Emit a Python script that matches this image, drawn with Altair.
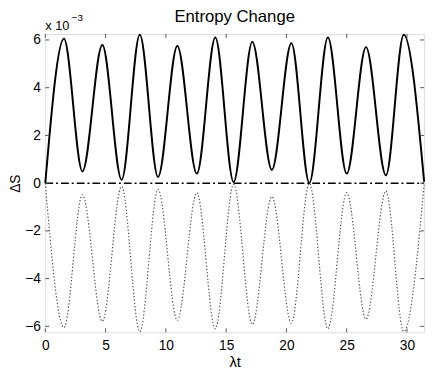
import altair as alt
import pandas as pd

# Values in units of 1e-3 (axis exponent label "x 10^-3")
peak_x = [1.55, 4.73, 7.84, 10.95, 14.10, 17.17, 20.41, 23.44, 26.60, 29.73]
peak_y = [6.05, 5.79, 6.22, 5.75, 6.10, 5.92, 5.86, 6.10, 5.70, 6.22]
trough_x = [0.0, 3.08, 6.33, 9.35, 12.57, 15.62, 18.79, 21.90, 25.00, 28.25, 31.42]
trough_y = [0.0, 0.49, 0.14, 0.26, 0.40, 0.05, 0.56, 0.01, 0.40, 0.33, 0.06]
zero_x = [0.0, 31.416]
zero_y = [0.0, 0.0]

x_ticks = [0, 5, 10, 15, 20, 25, 30]
y_ticks = [-6, -4, -2, 0, 2, 4, 6]
x_domain = [0, 31.416]
y_domain = [-6.25, 6.25]

title_text = "Entropy Change"
x_title = "λt"
y_title = "ΔS"
exp_base = "x 10"
exp_power = "−3"

FONT = "Liberation Sans"
W, H = 386, 304

pts = sorted(zip(peak_x + trough_x, peak_y + trough_y))
solid = pd.DataFrame({"x": [p[0] for p in pts], "y": [p[1] for p in pts]})
solid["o"] = range(len(solid))
dotted = solid.copy()
dotted["y"] = -dotted["y"]
zero = pd.DataFrame({"x": zero_x, "y": zero_y})

xs = alt.Scale(domain=x_domain, nice=False, zero=False)
ys = alt.Scale(domain=y_domain, nice=False, zero=False)

xaxis = alt.Axis(values=x_ticks, tickSize=0, domain=False, grid=False,
                 labelFontSize=14, labelPadding=7, labelFont=FONT, labelColor="black",
                 title=x_title, titleFontSize=15, titleFont=FONT, titleFontWeight="normal",
                 titlePadding=2, titleColor="black", labelFlush=False)
yaxis = alt.Axis(values=y_ticks, tickSize=0, domain=False, grid=False,
                 labelFontSize=14, labelPadding=5, labelFont=FONT, labelColor="black",
                 labelExpr="replace(datum.label, '-', '−')",
                 title=y_title, titleFontSize=14, titleFont=FONT, titleFontWeight="normal",
                 titlePadding=2, titleColor="black", labelFlush=False)

X = alt.X("x:Q", scale=xs, axis=xaxis)
Y = alt.Y("y:Q", scale=ys, axis=yaxis)

solid_line = alt.Chart(solid).mark_line(color="black", strokeWidth=2, interpolate="monotone").encode(
    x=X, y=Y, order="o:Q")
dotted_line = alt.Chart(dotted).mark_line(color="#555555", strokeWidth=1.2, strokeDash=[1.4, 2],
                                          interpolate="monotone").encode(x=X, y=Y, order="o:Q")
zero_line = alt.Chart(zero).mark_line(color="black", strokeWidth=1.5, strokeDash=[8, 3, 2, 3]).encode(
    x=X, y=Y)

xt = pd.DataFrame({"x": x_ticks})
yt = pd.DataFrame({"y": y_ticks})
tick_color = "#555555"
bt = alt.Chart(xt).mark_rule(color=tick_color, strokeWidth=1).encode(x=X, y=alt.value(H), y2=alt.value(H - 4))
tt = alt.Chart(xt).mark_rule(color=tick_color, strokeWidth=1).encode(x=X, y=alt.value(0), y2=alt.value(4))
lt = alt.Chart(yt).mark_rule(color=tick_color, strokeWidth=1).encode(y=Y, x=alt.value(0), x2=alt.value(4))
rt = alt.Chart(yt).mark_rule(color=tick_color, strokeWidth=1).encode(y=Y, x=alt.value(W), x2=alt.value(W - 4))

one = alt.Data(values=[{"a": 1}])
title_mark = alt.Chart(one).mark_text(text=title_text, font=FONT, fontSize=17, align="center",
                                      baseline="alphabetic", color="black").encode(
    x=alt.value(W / 2), y=alt.value(-12))
exp1 = alt.Chart(one).mark_text(text=exp_base, font=FONT, fontSize=13, align="left",
                                baseline="alphabetic", color="black").encode(
    x=alt.value(0), y=alt.value(-4))
exp2 = alt.Chart(one).mark_text(text=exp_power, font=FONT, fontSize=10, align="left",
                                baseline="alphabetic", color="black").encode(
    x=alt.value(27), y=alt.value(-13))

chart = alt.layer(dotted_line, zero_line, solid_line, bt, tt, lt, rt, title_mark, exp1, exp2).properties(
    width=W, height=H,
    autosize=alt.AutoSizeParams(type="none"),
    padding={"left": 38, "top": 23, "right": 4, "bottom": 40},
).configure_view(stroke="#333333", strokeWidth=1).configure(background="white")

chart.save("out.html", embed_options={"renderer": "svg", "actions": False})
